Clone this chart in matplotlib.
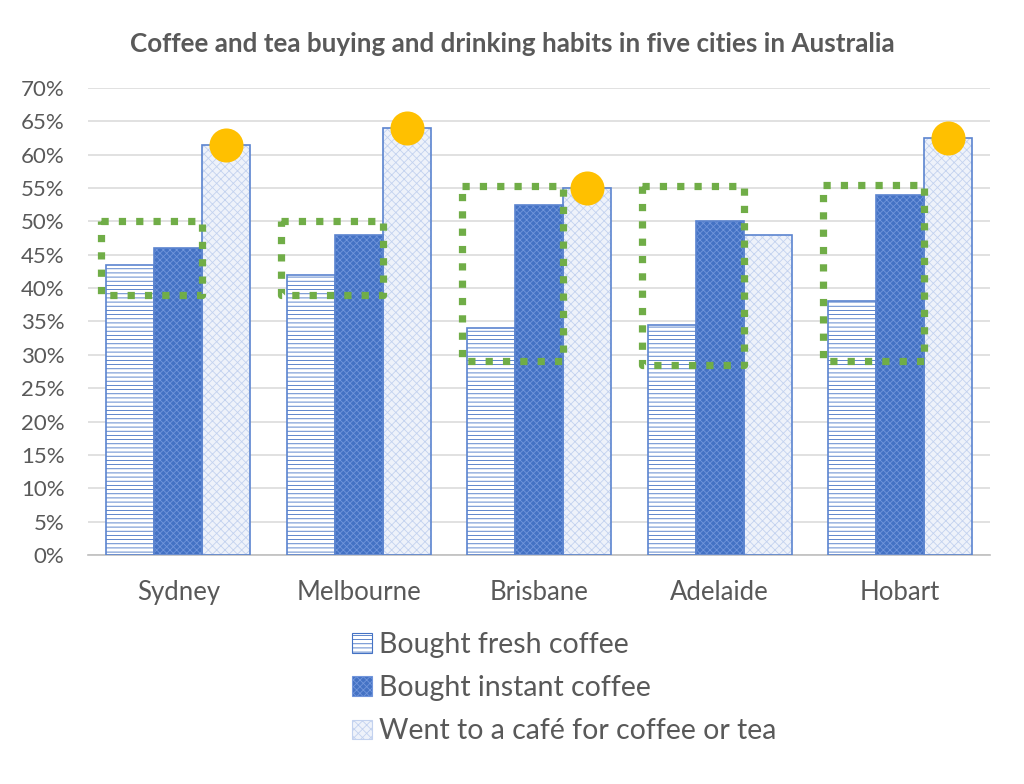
import numpy as np
import matplotlib.pyplot as plt
from matplotlib.patches import Patch

plt.rcParams['font.family'] = ['Lato', 'DejaVu Sans']
plt.rcParams['hatch.linewidth'] = 0.6

# data
cities = ['Sydney', 'Melbourne', 'Brisbane', 'Adelaide', 'Hobart']
fresh = [43.5, 42.0, 34.0, 34.5, 38.0]
instant = [46.0, 48.0, 52.5, 50.0, 54.0]
cafe = [61.5, 64.0, 55.0, 48.0, 62.5]
labels = ['Bought fresh coffee', 'Bought instant coffee',
          'Went to a café for coffee or tea']

# highlights: dotted boxes over fresh+instant, dots on top of cafe bars
box_low = [39.0, 39.0, 29.0, 28.5, 29.0]
box_high = [50.0, 50.0, 55.3, 55.3, 55.5]
dot_cities = ['Sydney', 'Melbourne', 'Brisbane', 'Hobart']

outline = '#5b84cf'
styles = [
    # face, hatch colour, hatch
    ('white', '#4472C4', '----'),
    ('#4472C4', '#7195db', 'xxxxx'),
    ('#eef2fa', '#c3d2ef', 'xxxx'),
]
grey = '#595959'

fig = plt.figure(figsize=(10.24, 7.84), dpi=100)
ax = fig.add_axes([0.086, 0.292, 0.881, 0.596])

index = np.arange(len(cities))
bar_width = 0.266
series = [fresh, instant, cafe]
handles = []
for k, (vals, (face, hcol, hatch)) in enumerate(zip(series, styles)):
    pos = index + (k - 1) * bar_width
    ax.bar(pos, np.array(vals) / 100, bar_width, color=face,
           edgecolor=hcol, hatch=hatch, linewidth=0, zorder=2)
    ax.bar(pos, np.array(vals) / 100, bar_width, fill=False,
           edgecolor=outline, linewidth=1.2, zorder=3)
    handles.append(Patch(facecolor=face, edgecolor=hcol, hatch=hatch,
                         linewidth=0.8))

# green dotted boxes
for i in range(len(cities)):
    x0 = i - 1.5 * bar_width - 0.03
    x1 = i + 0.5 * bar_width
    y0 = box_low[i] / 100
    y1 = box_high[i] / 100
    ax.plot([x0, x1, x1, x0, x0], [y1, y1, y0, y0, y1], color='#70AD47',
            linewidth=5.2, linestyle=(0, (1, 1.4)), dash_capstyle='butt',
            zorder=5, clip_on=False)

# orange dots on cafe bars
di = [cities.index(c) for c in dot_cities]
ax.scatter(index[di] + bar_width, np.array(cafe)[di] / 100, s=34 ** 2 * 0.52,
           color='#FFC000', zorder=6, clip_on=False, linewidths=0)

ax.set_xlim(-0.5, len(cities) - 0.5)
ax.set_ylim(0, 0.70)
ax.set_yticks(np.arange(0, 0.701, 0.05))
ax.set_yticklabels(['%d%%' % v for v in range(0, 71, 5)])
ax.set_xticks(index)
ax.set_xticklabels(cities)
ax.tick_params(axis='both', length=0, colors=grey)
ax.tick_params(axis='x', pad=18, labelsize=18.5)
ax.tick_params(axis='y', pad=17, labelsize=16)
ax.grid(axis='y', color='#d9d9d9', linewidth=1.1, zorder=0)
ax.set_axisbelow(True)
for s in ['top', 'right', 'left']:
    ax.spines[s].set_visible(False)
ax.spines['bottom'].set_color('#bfbfbf')
ax.spines['bottom'].set_linewidth(1.2)

fig.text(0.5, 0.944, 'Coffee and tea buying and drinking habits in five cities in Australia',
         ha='center', va='center', fontsize=18.7, fontweight='bold', color=grey)

fig.legend(handles, labels, loc='upper left', bbox_to_anchor=(0.333, 0.208),
           frameon=False, fontsize=20.5, labelcolor=grey, handlelength=0.7,
           handleheight=0.7, handletextpad=0.25, labelspacing=0.6,
           borderaxespad=0)

fig.savefig('out.png', dpi=100)
